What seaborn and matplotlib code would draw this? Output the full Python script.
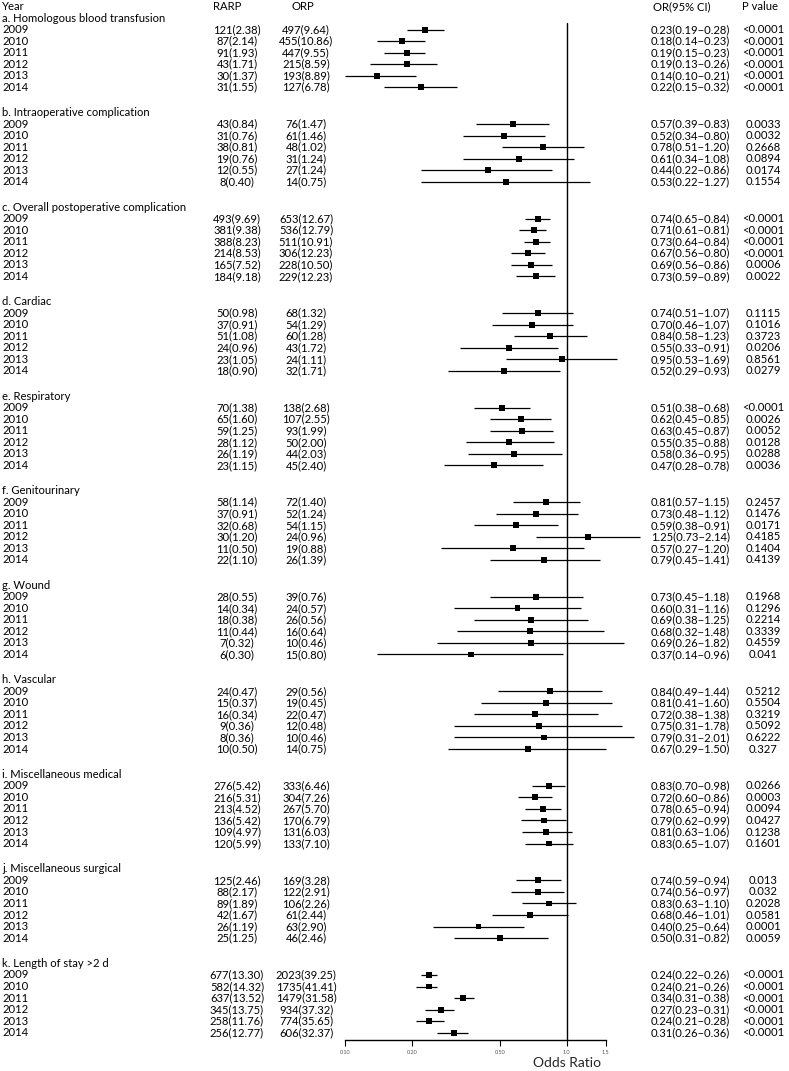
import matplotlib
matplotlib.use('Agg')
import matplotlib.pyplot as plt
import matplotlib.transforms as mtransforms
from matplotlib.ticker import NullLocator
import pandas as pd
import seaborn as sns

# -------------------------------------------------------------
# DATA
# -------------------------------------------------------------
groups = ['a. Homologous blood transfusion',
          'b. Intraoperative complication',
          'c. Overall postoperative complication',
          'd. Cardiac',
          'e. Respiratory',
          'f. Genitourinary',
          'g. Wound',
          'h. Vascular',
          'i. Miscellaneous medical',
          'j. Miscellaneous surgical',
          'k. Length of stay >2 d']
years = [2009, 2010, 2011, 2012, 2013, 2014]

rarp_n = [[121, 87, 91, 43, 30, 31],
          [43, 31, 38, 19, 12, 8],
          [493, 381, 388, 214, 165, 184],
          [50, 37, 51, 24, 23, 18],
          [70, 65, 59, 28, 26, 23],
          [58, 37, 32, 30, 11, 22],
          [28, 14, 18, 11, 7, 6],
          [24, 15, 16, 9, 8, 10],
          [276, 216, 213, 136, 109, 120],
          [125, 88, 89, 42, 26, 25],
          [677, 582, 637, 345, 258, 256]]
rarp_pct = [[2.38, 2.14, 1.93, 1.71, 1.37, 1.55],
            [0.84, 0.76, 0.81, 0.76, 0.55, 0.40],
            [9.69, 9.38, 8.23, 8.53, 7.52, 9.18],
            [0.98, 0.91, 1.08, 0.96, 1.05, 0.90],
            [1.38, 1.60, 1.25, 1.12, 1.19, 1.15],
            [1.14, 0.91, 0.68, 1.20, 0.50, 1.10],
            [0.55, 0.34, 0.38, 0.44, 0.32, 0.30],
            [0.47, 0.37, 0.34, 0.36, 0.36, 0.50],
            [5.42, 5.31, 4.52, 5.42, 4.97, 5.99],
            [2.46, 2.17, 1.89, 1.67, 1.19, 1.25],
            [13.30, 14.32, 13.52, 13.75, 11.76, 12.77]]
orp_n = [[497, 455, 447, 215, 193, 127],
         [76, 61, 48, 31, 27, 14],
         [653, 536, 511, 306, 228, 229],
         [68, 54, 60, 43, 24, 32],
         [138, 107, 93, 50, 44, 45],
         [72, 52, 54, 24, 19, 26],
         [39, 24, 26, 16, 10, 15],
         [29, 19, 22, 12, 10, 14],
         [333, 304, 267, 170, 131, 133],
         [169, 122, 106, 61, 63, 46],
         [2023, 1735, 1479, 934, 774, 606]]
orp_pct = [[9.64, 10.86, 9.55, 8.59, 8.89, 6.78],
           [1.47, 1.46, 1.02, 1.24, 1.24, 0.75],
           [12.67, 12.79, 10.91, 12.23, 10.50, 12.23],
           [1.32, 1.29, 1.28, 1.72, 1.11, 1.71],
           [2.68, 2.55, 1.99, 2.00, 2.03, 2.40],
           [1.40, 1.24, 1.15, 0.96, 0.88, 1.39],
           [0.76, 0.57, 0.56, 0.64, 0.46, 0.80],
           [0.56, 0.45, 0.47, 0.48, 0.46, 0.75],
           [6.46, 7.26, 5.70, 6.79, 6.03, 7.10],
           [3.28, 2.91, 2.26, 2.44, 2.90, 2.46],
           [39.25, 41.41, 31.58, 37.32, 35.65, 32.37]]
odds_ratio = [[0.23, 0.18, 0.19, 0.19, 0.14, 0.22],
              [0.57, 0.52, 0.78, 0.61, 0.44, 0.53],
              [0.74, 0.71, 0.73, 0.67, 0.69, 0.73],
              [0.74, 0.70, 0.84, 0.55, 0.95, 0.52],
              [0.51, 0.62, 0.63, 0.55, 0.58, 0.47],
              [0.81, 0.73, 0.59, 1.25, 0.57, 0.79],
              [0.73, 0.60, 0.69, 0.68, 0.69, 0.37],
              [0.84, 0.81, 0.72, 0.75, 0.79, 0.67],
              [0.83, 0.72, 0.78, 0.79, 0.81, 0.83],
              [0.74, 0.74, 0.83, 0.68, 0.40, 0.50],
              [0.24, 0.24, 0.34, 0.27, 0.24, 0.31]]
ci_low = [[0.19, 0.14, 0.15, 0.13, 0.10, 0.15],
          [0.39, 0.34, 0.51, 0.34, 0.22, 0.22],
          [0.65, 0.61, 0.64, 0.56, 0.56, 0.59],
          [0.51, 0.46, 0.58, 0.33, 0.53, 0.29],
          [0.38, 0.45, 0.45, 0.35, 0.36, 0.28],
          [0.57, 0.48, 0.38, 0.73, 0.27, 0.45],
          [0.45, 0.31, 0.38, 0.32, 0.26, 0.14],
          [0.49, 0.41, 0.38, 0.31, 0.31, 0.29],
          [0.70, 0.60, 0.65, 0.62, 0.63, 0.65],
          [0.59, 0.56, 0.63, 0.46, 0.25, 0.31],
          [0.22, 0.21, 0.31, 0.23, 0.21, 0.26]]
ci_high = [[0.28, 0.23, 0.23, 0.26, 0.21, 0.32],
           [0.83, 0.80, 1.20, 1.08, 0.86, 1.27],
           [0.84, 0.81, 0.84, 0.80, 0.86, 0.89],
           [1.07, 1.07, 1.23, 0.91, 1.69, 0.93],
           [0.68, 0.85, 0.87, 0.88, 0.95, 0.78],
           [1.15, 1.12, 0.91, 2.14, 1.20, 1.41],
           [1.18, 1.16, 1.25, 1.48, 1.82, 0.96],
           [1.44, 1.60, 1.38, 1.78, 2.01, 1.50],
           [0.98, 0.86, 0.94, 0.99, 1.06, 1.07],
           [0.94, 0.97, 1.10, 1.01, 0.64, 0.82],
           [0.26, 0.26, 0.38, 0.31, 0.28, 0.36]]
p_values = [['<0.0001'] * 6,
            ['0.0033', '0.0032', '0.2668', '0.0894', '0.0174', '0.1554'],
            ['<0.0001', '<0.0001', '<0.0001', '<0.0001', '0.0006', '0.0022'],
            ['0.1115', '0.1016', '0.3723', '0.0206', '0.8561', '0.0279'],
            ['<0.0001', '0.0026', '0.0052', '0.0128', '0.0288', '0.0036'],
            ['0.2457', '0.1476', '0.0171', '0.4185', '0.1404', '0.4139'],
            ['0.1968', '0.1296', '0.2214', '0.3339', '0.4559', '0.041'],
            ['0.5212', '0.5504', '0.3219', '0.5092', '0.6222', '0.327'],
            ['0.0266', '0.0003', '0.0094', '0.0427', '0.1238', '0.1601'],
            ['0.013', '0.032', '0.2028', '0.0581', '0.0001', '0.0059'],
            ['<0.0001'] * 6]

x_ticks = [0.10, 0.20, 0.50, 1.0, 1.5]
x_tick_labels = ['0.10', '0.20', '0.50', '1.0', '1.5']

# -------------------------------------------------------------
# LAYOUT
# -------------------------------------------------------------
W, H = 789, 1071
GROUP_STEP = 8.2          # header + 6 rows + gap, in row units

rows = []
for g, title in enumerate(groups):
    for k, yr in enumerate(years):
        rows.append({'group': title, 'year': yr,
                     'y': g * GROUP_STEP + k + 1,
                     'OR': odds_ratio[g][k],
                     'lo': ci_low[g][k], 'hi': ci_high[g][k],
                     'rarp': f"{rarp_n[g][k]}({rarp_pct[g][k]:.2f})",
                     'orp': f"{orp_n[g][k]}({orp_pct[g][k]:.2f})",
                     'ci': f"{odds_ratio[g][k]:.2f}({ci_low[g][k]:.2f}\u2212{ci_high[g][k]:.2f})",
                     'p': p_values[g][k]})
df = pd.DataFrame(rows)

sns.set_theme(style='white')
plt.rcParams['font.family'] = ['Lato', 'DejaVu Sans']

fig = plt.figure(figsize=(W / 100, H / 100), dpi=100)
ax = fig.add_axes([340 / W, 1 - 1040 / H, 305 / W, (1040 - 23) / H])
ax.set_xscale('log')

# -------------------------------------------------------------
# FOREST
# -------------------------------------------------------------
ax.hlines(df['y'], df['lo'], df['hi'], color='black', lw=0.9, zorder=2)
sns.scatterplot(data=df, x='OR', y='y', marker='s', color='black',
                s=18, edgecolor='none', ax=ax, zorder=3, legend=False)
ax.axvline(1.0, color='black', lw=1.0, zorder=1)

ax.set_xlim(0.0949, 2.256)
ax.set_ylim(88.64, 0.43)
ax.set_xticks(x_ticks)
ax.set_xticklabels(x_tick_labels)
ax.xaxis.set_minor_locator(NullLocator())
ax.set_yticks([])
ax.set_xlabel('')
ax.set_ylabel('')
for s in ['top', 'left', 'right']:
    ax.spines[s].set_visible(False)
ax.spines['bottom'].set_bounds(0.10, 1.5)
ax.spines['bottom'].set_color('black')
ax.spines['bottom'].set_linewidth(1.0)
ax.tick_params(axis='x', direction='out', length=4, width=0.8,
               labelsize=4, pad=3, bottom=True, colors='black',
               labelcolor='#555555')

fig.text(566.7 / W, 1 - 1063 / H, 'Odds Ratio', ha='center', va='center',
         fontsize=10)

# -------------------------------------------------------------
# TEXT COLUMNS
# -------------------------------------------------------------
tr = mtransforms.blended_transform_factory(fig.transFigure, ax.transData)
FS = 8.1

def put(xpx, y, s, ha='left'):
    ax.text(xpx / W, y, s, transform=tr, ha=ha, va='center',
            fontsize=FS, color='black', clip_on=False)

put(2, -1, 'Year')
put(213, -1, 'RARP')
put(292, -1, 'ORP')
put(653, -1, 'OR(95% CI)')
put(742, -1, 'P value')

for g, title in enumerate(groups):
    put(2, g * GROUP_STEP, title)

for _, r in df.iterrows():
    put(2, r['y'], str(r['year']))
    put(237, r['y'], r['rarp'], ha='center')
    put(306, r['y'], r['orp'], ha='center')
    put(651, r['y'], r['ci'])
    put(763, r['y'], r['p'], ha='center')

plt.savefig('out.png', dpi=100)
